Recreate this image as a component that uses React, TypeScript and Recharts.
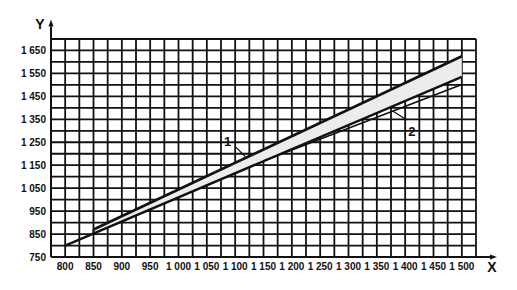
import { ComposedChart, XAxis, YAxis, CartesianGrid, Area, Line, ReferenceLine } from "recharts"

// grid every 25 on X, every 50 on Y; labels on a coarser step
const xTicks = [775, 800, 825, 850, 875, 900, 925, 950, 975, 1000, 1025, 1050, 1075, 1100, 1125, 1150, 1175, 1200, 1225, 1250, 1275, 1300, 1325, 1350, 1375, 1400, 1425, 1450, 1475, 1500, 1525]
const yTicks = [750, 800, 850, 900, 950, 1000, 1050, 1100, 1150, 1200, 1250, 1300, 1350, 1400, 1450, 1500, 1550, 1600, 1650, 1700]
const xLabels = [800, 850, 900, 950, 1000, 1050, 1100, 1150, 1200, 1250, 1300, 1350, 1400, 1450, 1500]
const yLabels = [750, 850, 950, 1050, 1150, 1250, 1350, 1450, 1550, 1650]

// shaded band (curve 1 on top, lower boundary below)
const bandX = [850, 1500]
const bandHigh = [870, 1625]
const bandLow = [852, 1535]

// lower boundary line
const lowerX = [800, 1500]
const lowerY = [800, 1535]

// curve 2
const curve2X = [1150, 1500]
const curve2Y = [1168, 1502]

const FONT = "'Liberation Sans Narrow', 'Liberation Sans', Arial, sans-serif"
const INK = "#111"

const bandData = bandX.map((x, i) => ({ x, lo: bandLow[i], hi: bandHigh[i] }))
const upperData = bandX.map((x, i) => ({ x, y: bandHigh[i] }))
const lowerData = lowerX.map((x, i) => ({ x, y: lowerY[i] }))
const curve2Data = curve2X.map((x, i) => ({ x, y: curve2Y[i] }))

const fmt = (v: number) =>
  v >= 1000 ? `${Math.floor(v / 1000)} ${String(v % 1000).padStart(3, "0")}` : String(v)

function Arrow(props: any) {
  const { x1, y1, x2, y2, text, tdx, tdy } = props
  const ang = Math.atan2(y2 - y1, x2 - x1)
  const L = 7
  const W = 2.5
  const bx = x2 - L * Math.cos(ang)
  const by = y2 - L * Math.sin(ang)
  const px = -Math.sin(ang) * W
  const py = Math.cos(ang) * W
  return (
    <g>
      <line x1={x1} y1={y1} x2={bx} y2={by} stroke={INK} strokeWidth={2} />
      <polygon points={`${x2},${y2} ${bx + px},${by + py} ${bx - px},${by - py}`} fill={INK} />
      <text x={x2 + tdx} y={y2 + tdy} textAnchor="middle" fontSize={14} fontWeight={700} fontFamily={FONT} fill={INK}>
        {text}
      </text>
    </g>
  )
}

function Leader(props: any) {
  const { x1, y1, x2, y2, text, fromEnd, tdx, tdy } = props
  const ax = fromEnd ? x2 : x1
  const ay = fromEnd ? y2 : y1
  return (
    <g>
      <line x1={x1} y1={y1} x2={x2} y2={y2} stroke={INK} strokeWidth={1.2} />
      <text x={ax + tdx} y={ay + tdy} textAnchor="middle" fontSize={13} fontWeight={700} fontFamily={FONT} fill={INK}>
        {text}
      </text>
    </g>
  )
}

export default function App() {
  return (
    <div style={{ position: "absolute", left: 0, top: 0, background: "#fff" }}>
      <ComposedChart width={517} height={290} margin={{ top: 39, right: 41, left: 0, bottom: 0 }}>
        <CartesianGrid stroke={INK} strokeWidth={1.8} />
        <XAxis
          type="number"
          dataKey="x"
          domain={[775, 1525]}
          ticks={xTicks}
          interval={0}
          height={33}
          tickSize={0}
          tickMargin={6}
          axisLine={{ stroke: INK, strokeWidth: 2 }}
          tickLine={false}
          tickFormatter={(v: number) => (xLabels.includes(v) ? fmt(v) : "")}
          tick={{ fill: INK, fontSize: 10, fontWeight: 700, fontFamily: FONT }}
          allowDataOverflow
        />
        <YAxis
          type="number"
          domain={[750, 1700]}
          ticks={yTicks}
          interval={0}
          width={51}
          tickSize={0}
          tickMargin={5}
          axisLine={{ stroke: INK, strokeWidth: 2 }}
          tickLine={false}
          tickFormatter={(v: number) => (yLabels.includes(v) ? fmt(v) : "")}
          tick={{ fill: INK, fontSize: 10, fontWeight: 700, fontFamily: FONT }}
          allowDataOverflow
        />
        <Area
          data={bandData}
          dataKey={(d: any) => [d.lo, d.hi]}
          type="linear"
          stroke="none"
          fill="#ececec"
          fillOpacity={1}
          isAnimationActive={false}
        />
        <ReferenceLine
          segment={[{ x: bandX[0], y: bandLow[0] }, { x: bandX[0], y: bandHigh[0] }]}
          stroke={INK}
          strokeWidth={2}
        />
        <Line data={lowerData} dataKey="y" type="linear" stroke={INK} strokeWidth={2.4} dot={false} isAnimationActive={false} />
        <Line data={upperData} dataKey="y" type="linear" stroke={INK} strokeWidth={2.6} dot={false} isAnimationActive={false} />
        <Line data={curve2Data} dataKey="y" type="linear" stroke={INK} strokeWidth={1.6} dot={false} isAnimationActive={false} />
        <ReferenceLine
          segment={[{ x: 1101, y: 1229 }, { x: 1118, y: 1188 }]}
          ifOverflow="visible"
          shape={(p: any) => <Leader {...p} text="1" tdx={-8} tdy={-1.5} />}
        />
        <ReferenceLine
          segment={[{ x: 1378, y: 1386 }, { x: 1403, y: 1347 }]}
          ifOverflow="visible"
          shape={(p: any) => <Leader {...p} text="2" fromEnd tdx={5} tdy={16} />}
        />
        <ReferenceLine
          segment={[{ x: 775, y: 1700 }, { x: 775, y: 1785 }]}
          ifOverflow="visible"
          shape={(p: any) => <Arrow {...p} text="Y" tdx={-11} tdy={10} />}
        />
        <ReferenceLine
          segment={[{ x: 1525, y: 750 }, { x: 1562, y: 750 }]}
          ifOverflow="visible"
          shape={(p: any) => <Arrow {...p} text="X" tdx={-5} tdy={14.5} />}
        />
      </ComposedChart>
    </div>
  )
}
